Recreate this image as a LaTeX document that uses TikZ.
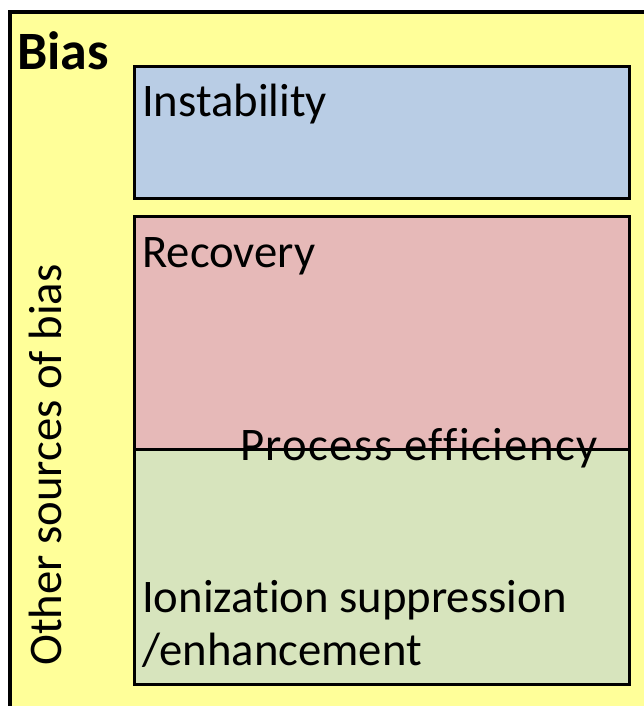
\documentclass[tikz,border=0pt]{standalone}
\usepackage{fontspec}
\setmainfont[Ligatures=NoCommon]{Carlito}
\definecolor{biasyellow}{HTML}{FFFF99}
\definecolor{instblue}{HTML}{B9CDE5}
\definecolor{recred}{HTML}{E6B9B8}
\definecolor{iongreen}{HTML}{D7E4BD}
\begin{document}
\begin{tikzpicture}[x=1pt, y=-1pt, every node/.style={inner sep=0pt, anchor=base west, font=\fontsize{46.7}{50}\selectfont}]
\useasboundingbox (0,0) rectangle (644,706);
\clip (0,0) rectangle (644,706);
% BIAS
\draw[line width=3.2pt, fill=biasyellow] (10,12) rectangle (660,720);
\node[font=\fontsize{54}{58}\selectfont\bfseries] (bias) at (17,70) {Bias};
\node[rotate=90, anchor=center] (other) at (45,465) {Other sources of bias};
% LANGELIAI
\begin{scope}[line width=3pt]
  \draw[fill=instblue] (134,67) rectangle (629,198);
  \draw[fill=recred] (134,216) rectangle (629,449);
  \draw[fill=iongreen] (134,449) rectangle (629,684);
\end{scope}
\node (inst) at (142,117) {Instability};
\node (rec) at (142,267) {Recovery};
\node[font=\fontsize{46.7}{50}\selectfont\addfontfeatures{LetterSpace=3}] (proc) at (240,460) {Process efficiency};
\node (ion) at (142,612) {Ionization suppression};
\node (enh) at (142,665) {/enhancement};
\end{tikzpicture}
\end{document}
